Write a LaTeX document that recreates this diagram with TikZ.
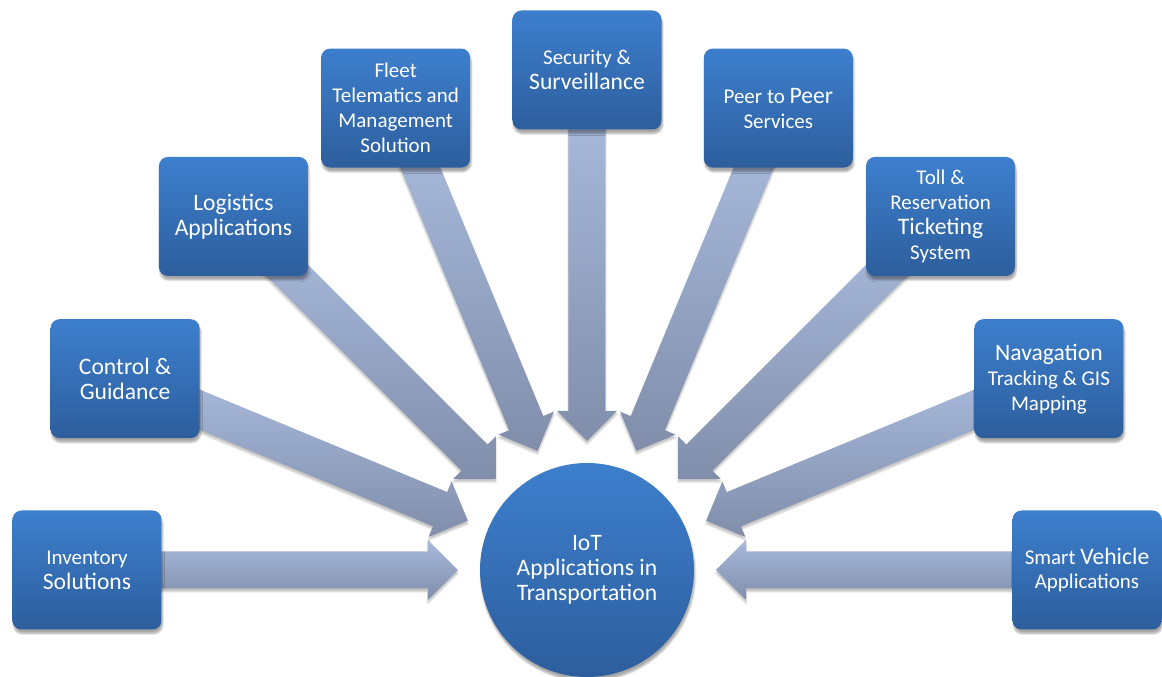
\documentclass[tikz,border=0pt]{standalone}
\usepackage{fontspec}
\setmainfont{Carlito}
\usetikzlibrary{shapes,arrows,calc,backgrounds,shadows.blur}

\definecolor{boxtop}{RGB}{61,127,205}
\definecolor{boxbot}{RGB}{45,94,157}
\definecolor{arrtop}{RGB}{168,185,219}
\definecolor{arrbot}{RGB}{128,142,171}
\newcommand{\bigtxt}{\fontsize{23.6}{25}\selectfont}

\begin{document}
\begin{tikzpicture}[x=1pt,y=1pt,font=\fontsize{21}{25}\selectfont]
\tikzstyle{app}=[rectangle,rounded corners=9pt,minimum width=149pt,minimum height=119pt,align=center,text=white,
  top color=boxtop,bottom color=boxbot,blur shadow={shadow xshift=1pt,shadow yshift=-4pt,shadow opacity=35,shadow blur steps=6}]
\tikzstyle{hub}=[app,circle,minimum size=214pt,font=\bigtxt]
\tikzstyle{feed}=[top color=arrtop,bottom color=arrbot,blur shadow={shadow xshift=0pt,shadow yshift=-3pt,shadow opacity=25,shadow blur steps=5}]
\useasboundingbox (-587,-107) rectangle (575,570);

\node[hub] (iot) at (0,0) {IoT\\Applications in\\Transportation};
\node[app] (inv) at (180:500) {Inventory\\{\bigtxt Solutions}};
\node[app,font=\bigtxt] (ctl) at (157.5:500) {Control \&\\Guidance};
\node[app,font=\bigtxt] (logi) at (135:500) {Logistics\\Applications};
\node[app] (fleet) at (112.5:500) {Fleet\\Telematics and\\Management\\Solution};
\node[app] (sec) at (90:500) {Security \&\\{\bigtxt Surveillance}};
\node[app] (peer) at (67.5:500) {Peer to {\bigtxt Peer}\\Services};
\node[app] (toll) at (45:500) {Toll \&\\Reservation\\{\bigtxt Ticketing}\\System};
\node[app] (nav) at (22.5:500) {{\bigtxt Navagation}\\Tracking \& GIS\\Mapping};
\node[app] (smart) at (0:500) {Smart {\bigtxt Vehicle}\\Applications};

% block arrows pointing at the hub
\begin{scope}[on background layer]
\foreach \n in {inv,ctl,logi,fleet,sec,peer,toll,nav,smart}{
  \coordinate (tip) at ($(iot)!129pt!(\n)$);
  \coordinate (neck) at ($(iot)!159pt!(\n)$);
  \coordinate (tail) at ($(iot)!460pt!(\n)$);
  \path[feed] (tip) -- ($(neck)!30pt!90:(tip)$) -- ($(neck)!18.5pt!90:(tip)$)
    -- ($(tail)!18.5pt!90:(iot)$) -- ($(tail)!18.5pt!-90:(iot)$)
    -- ($(neck)!18.5pt!-90:(tip)$) -- ($(neck)!30pt!-90:(tip)$) -- cycle;
}
\end{scope}
\end{tikzpicture}
\end{document}
